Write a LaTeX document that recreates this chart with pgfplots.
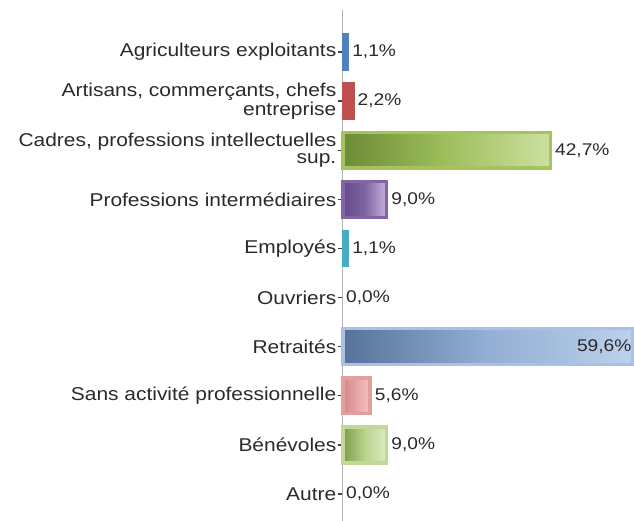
\documentclass[border=0pt]{standalone}
\usepackage{fontspec}
\setmainfont{Liberation Sans}[FakeStretch=1.13]
\usepackage{pgfplots}
\pgfplotsset{compat=1.18}
\definecolor{txt}{HTML}{2A2A2A}
\definecolor{bluA}{HTML}{4F81BD}
\definecolor{redA}{HTML}{C0504D}
\definecolor{grnB}{HTML}{A6C45E}\definecolor{grnL}{HTML}{6D8B36}\definecolor{grnM}{HTML}{9EBF5C}\definecolor{grnR}{HTML}{CDE0A0}
\definecolor{purB}{HTML}{8466A8}\definecolor{purL}{HTML}{654A8A}\definecolor{purM}{HTML}{8064A2}\definecolor{purR}{HTML}{C4B4DC}
\definecolor{tealA}{HTML}{4BACC6}
\definecolor{retB}{HTML}{A9C1E2}\definecolor{retL}{HTML}{56729A}\definecolor{retM}{HTML}{93AFD4}\definecolor{retR}{HTML}{BCD1EC}
\definecolor{pnkB}{HTML}{E39E9E}\definecolor{pnkL}{HTML}{D48585}\definecolor{pnkM}{HTML}{E8A6A6}\definecolor{pnkR}{HTML}{F2C4C4}
\definecolor{benB}{HTML}{C0D898}\definecolor{benL}{HTML}{7F9C4C}\definecolor{benM}{HTML}{B9D38C}\definecolor{benR}{HTML}{DCEBC2}
\begin{document}
\begin{tikzpicture}
\begin{axis}[name=ax, scale only axis, width=291bp, height=511bp,
  xbar, bar shift=0pt, bar width=0.73,
  xmin=0, xmax=59.9, ymin=-0.855, ymax=9.55, y dir=reverse,
  axis x line=none, axis y line*=left,
  y axis line style={draw=black!30, line width=1bp},
  ytick={0,...,9},
  yticklabels={Agriculteurs exploitants,
    {Artisans, commerçants, chefs\\entreprise},
    {Cadres, professions intellectuelles\\sup.},
    Professions intermédiaires, Employés, Ouvriers, Retraités,
    Sans activité professionnelle, Bénévoles, Autre},
  yticklabel style={font=\fontsize{18.6}{17}\selectfont, text=txt, align=right, inner sep=1.5bp, anchor=east},
  tick align=outside, major tick length=5bp,
  y tick style={draw=black!75, line width=1.3bp},
  nodes near coords, point meta=explicit symbolic,
  every node near coord/.append style={font=\fontsize{17}{17}\selectfont, text=txt, inner sep=1bp, xshift=2bp, anchor=west},
  clip=false]
\addplot[draw=bluA, line width=2bp, fill=bluA] coordinates {(1.1,0) [1,1\%]};
\addplot[draw=redA, line width=2bp, fill=redA] coordinates {(2.2,1) [2,2\%]};
\addplot[draw=grnB, line width=3.5bp, left color=grnL, right color=grnR, middle color=grnM] coordinates {(42.7,2) [42,7\%]};
\addplot[draw=purB, line width=3.5bp, left color=purL, right color=purR, middle color=purM] coordinates {(9.0,3) [9,0\%]};
\addplot[draw=tealA, line width=2bp, fill=tealA] coordinates {(1.1,4) [1,1\%]};
\addplot[draw=none, fill=none] coordinates {(0,5) [0,0\%]};
\addplot[draw=retB, line width=3.5bp, left color=retL, right color=retR, middle color=retM, nodes near coords=\empty] coordinates {(59.6,6) []};
\addplot[draw=pnkB, line width=3.5bp, left color=pnkL, right color=pnkR, middle color=pnkM] coordinates {(5.6,7) [5,6\%]};
\addplot[draw=benB, line width=3.5bp, left color=benL, right color=benR, middle color=benM] coordinates {(9.0,8) [9,0\%]};
\addplot[draw=none, fill=none] coordinates {(0,9) [0,0\%]};
\node[anchor=east, font=\fontsize{17}{17}\selectfont, text=txt, inner sep=1bp] at (axis cs:59.6,6) {59,6\%};
\end{axis}
\pgfresetboundingbox
\path[use as bounding box] (ax.south west) ++(-343bp,0bp) rectangle ([yshift=10bp]ax.north east);
\end{tikzpicture}
\end{document}
